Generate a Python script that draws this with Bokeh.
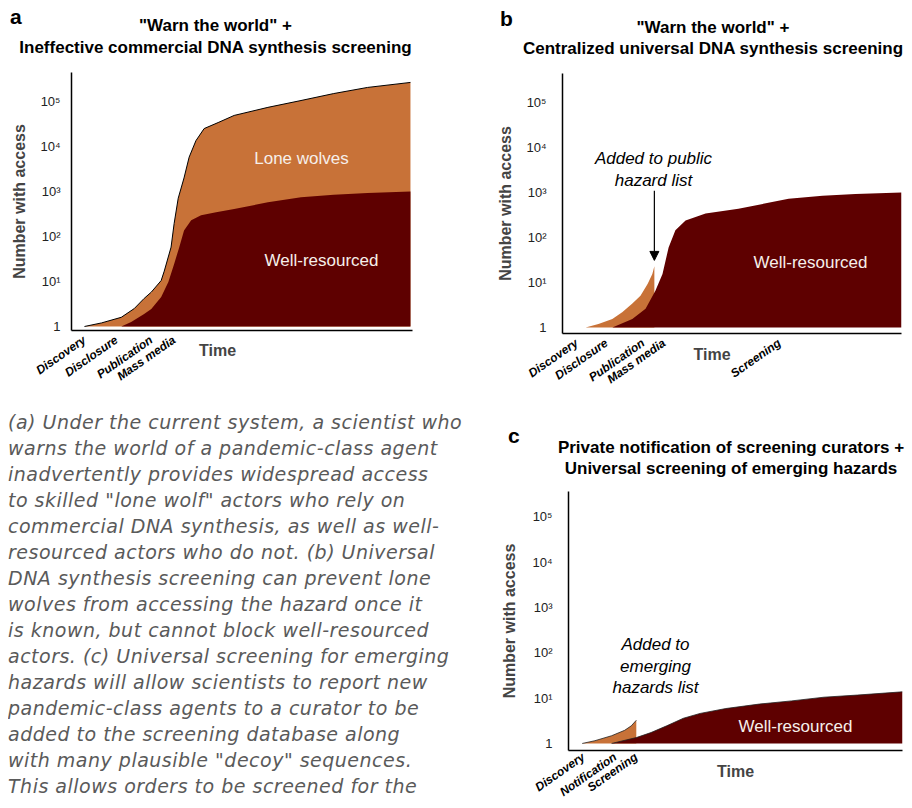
from bokeh.plotting import figure
from bokeh.models import FixedTicker, Label, Arrow, NormalHead, Range1d, Div
from bokeh.layouts import row, column
from bokeh.embed import file_html
from bokeh.resources import INLINE

ORANGE = "#C87238"
DARK = "#5E0000"
FONT = "Liberation Sans"

# ---------------- data ----------------
y_ticks = [1, 10, 100, 1000, 10000, 100000]
y_tick_labels = ["1", "10\u00b9", "10\u00b2", "10\u00b3", "10\u2074", "10\u2075"]

# panel a
a_letter = "a"
a_title = ["\"Warn the world\" +", "Ineffective commercial DNA synthesis screening"]
a_events = ["Discovery", "Disclosure", "Publication", "Mass media"]
a_event_t = [3.8, 13.2, 23.4, 30.1]
a_lone_t = [3.8, 8.8, 14.6, 18.4, 21.3, 23.4, 26.3, 27.2, 29.2, 30.1, 31.3, 33.0, 34.5,
            36.5, 38.9, 43.0, 47.7, 57.6, 67.3, 76.9, 86.8, 99.4]
a_lone_n = [1, 1.2, 1.6, 2.5, 4.2, 5.8, 10.5, 17, 58, 195, 710, 2000, 5800, 13500, 25000,
            34000, 49000, 74000, 105000, 150000, 205000, 265000]
a_wr_t = [14.6, 17.5, 21.3, 23.4, 26.3, 28.4, 30.1, 31.6, 33.0, 35.1, 38.0, 42.4, 47.7,
          57.6, 67.3, 76.9, 86.8, 99.4]
a_wr_n = [1, 1.26, 1.9, 2.45, 4.5, 9.8, 24.5, 58, 135, 230, 295, 345, 410, 575, 740, 850,
          930, 1000]

# panel b
b_letter = "b"
b_title = ["\"Warn the world\" +", "Centralized universal DNA synthesis screening"]
b_events = ["Discovery", "Disclosure", "Publication", "Mass media", "Screening"]
b_event_t = [4.2, 13.0, 23.8, 30.0, 64.0]
b_lone_t = [6.8, 10.6, 14.7, 17.7, 20.6, 23.0, 25.1, 26.5, 27.1]
b_lone_n = [1, 1.2, 1.55, 2.2, 3.4, 5.1, 9.3, 15.5, 23]
b_wr_t = [14.7, 20.6, 24.5, 27.4, 29.5, 31.3, 33.3, 36.3, 42.2, 51.9, 66.7, 76.7, 86.4, 100]
b_wr_n = [1, 1.55, 2.6, 6.6, 15.5, 60, 145, 240, 340, 435, 725, 850, 930, 1000]
b_list_t = 27.1          # time the hazard is added to the public list
b_arrow_n = [1100, 31]   # arrow from / to (number with access)

# panel c
c_letter = "c"
c_title = ["Private notification of screening curators +",
           "Universal screening of emerging hazards"]
c_events = ["Discovery", "Notification", "Screening"]
c_event_t = [4.5, 14.0, 20.3]
c_lone_t = [4.1, 7.9, 12.9, 16.8, 18.8, 20.3]
c_lone_n = [1, 1.15, 1.48, 1.95, 2.45, 3.25]
c_wr_t = [12.9, 20.3, 24.7, 29.4, 34.4, 39.4, 47.1, 57.1, 66.8, 76.5, 86.5, 100]
c_wr_n = [1, 1.35, 1.74, 2.45, 3.6, 4.6, 5.9, 7.4, 8.7, 10.5, 11.7, 13.8]

caption_lines = [
    "(a) Under the current system, a scientist who",
    "warns the world of a pandemic-class agent",
    "inadvertently provides widespread access",
    "to skilled \"lone wolf\" actors who rely on",
    "commercial DNA synthesis, as well as well-",
    "resourced actors who do not. (b) Universal",
    "DNA synthesis screening can prevent lone",
    "wolves from accessing the hazard once it",
    "is known, but cannot block well-resourced",
    "actors. (c) Universal screening for emerging",
    "hazards will allow scientists to report new",
    "pandemic-class agents to a curator to be",
    "added to the screening database along",
    "with many plausible \"decoy\" sequences.",
    "This allows orders to be screened for the",
]

NBSP = "\u00a0"


def lab(p, x, y, text, size, style="normal", color="black", align="center"):
    p.add_layout(Label(x=x, y=y, x_units="screen", y_units="screen", text=text,
                       text_font=FONT, text_font_size=size, text_font_style=style,
                       text_color=color, text_align=align, text_baseline="alphabetic"))


def header(width, height, letter, lx, ltop, lines, cx, tops, size):
    parts = ['<div style="position:relative;width:%dpx;height:%dpx;margin:0;padding:0;'
             'font-family:\'Liberation Sans\';color:black;">' % (width, height)]
    parts.append('<div style="position:absolute;left:%gpx;top:%gpx;font-weight:bold;'
                 'font-size:21px;line-height:16px;">%s</div>' % (lx, ltop, letter))
    for line, top in zip(lines, tops):
        parts.append('<div style="position:absolute;left:%gpx;top:%gpx;'
                     'transform:translateX(-50%%);white-space:nowrap;font-weight:bold;'
                     'font-size:%s;line-height:20px;">%s</div>' % (cx, top, size, line))
    parts.append('</div>')
    return Div(text="".join(parts), width=width, height=height, margin=0)


def panel(width, height, bl, br, bt, bb, ylo, yhi, events, event_t, tick_standoff,
          label_standoff, time_pad, time_standoff, x_standoff):
    p = figure(width=width, height=height, x_range=Range1d(0, 100),
               y_range=Range1d(10 ** ylo, 10 ** yhi), y_axis_type="log",
               output_backend="svg", toolbar_location=None, title=None,
               min_border_left=bl, min_border_right=br, min_border_top=bt,
               min_border_bottom=bb, margin=0)
    p.outline_line_color = None
    p.xgrid.visible = False
    p.ygrid.visible = False
    for ax in (p.xaxis[0], p.yaxis[0]):
        ax.major_tick_line_color = None
        ax.minor_tick_line_color = None
        ax.major_tick_out = 0
        ax.major_tick_in = 0
        ax.minor_tick_out = 0
        ax.minor_tick_in = 0
        ax.axis_line_width = 1.5
        ax.axis_line_color = "black"
    xa = p.xaxis[0]
    xa.ticker = FixedTicker(ticks=event_t)
    xa.major_label_overrides = {t: e for t, e in zip(event_t, events)}
    xa.major_label_orientation = 0.61
    xa.major_label_text_font = FONT
    xa.major_label_text_font_style = "bold italic"
    xa.major_label_text_font_size = "12px"
    xa.major_label_text_color = "black"
    xa.major_label_standoff = x_standoff
    xa.axis_label = "Time" + NBSP * time_pad
    xa.axis_label_text_font = FONT
    xa.axis_label_text_font_style = "bold"
    xa.axis_label_text_font_size = "16px"
    xa.axis_label_standoff = time_standoff
    ya = p.yaxis[0]
    ya.ticker = FixedTicker(ticks=y_ticks)
    ya.major_label_overrides = {t: s for t, s in zip(y_ticks, y_tick_labels)}
    ya.major_label_text_font = FONT
    ya.major_label_text_font_size = "13px"
    ya.major_label_text_color = "#222222"
    ya.major_label_standoff = tick_standoff
    ya.axis_label = "Number with access"
    ya.axis_label_text_font = FONT
    ya.axis_label_text_font_style = "bold"
    ya.axis_label_text_font_size = "16px"
    ya.axis_label_standoff = label_standoff
    return p


# ---------------- panel a ----------------
ha = header(450, 60, a_letter, 2, 1, a_title, 207.5, [7.5, 30], "17px")
pa = panel(450, 340, 62, 46, 4, 78, -0.089, 5.644, a_events, a_event_t, 11, 9, 11, -50, 8)
pa.varea(x=a_lone_t, y1=1, y2=a_lone_n, fill_color=ORANGE)
pa.line(x=a_lone_t, y=a_lone_n, line_color="black", line_width=1)
pa.varea(x=a_wr_t, y1=1, y2=a_wr_n, fill_color=DARK)
lab(pa, 230, 172, "Lone wolves", "17px", "normal", "#f6efea")
lab(pa, 250, 70, "Well-resourced", "17px", "normal", "#f6efea")

# ---------------- panel b ----------------
hb = header(446, 60, b_letter, 42, 2.7, b_title, 255, [9.6, 31.1], "17px")
pb = panel(446, 340, 104, 3, 5, 75, -0.133, 5.644, b_events, b_event_t, 16, 9, 9, -49, 8)
pb.varea(x=b_lone_t, y1=1, y2=b_lone_n, fill_color=ORANGE)
pb.varea(x=b_wr_t, y1=1, y2=b_wr_n, fill_color=DARK)
pb.add_layout(Arrow(end=NormalHead(size=9, fill_color="black", line_color="black"),
                    x_start=b_list_t, y_start=b_arrow_n[0], x_end=b_list_t,
                    y_end=b_arrow_n[1], line_color="black", line_width=1.2))
lab(pb, 91, 175, "Added to public", "17px", "italic")
lab(pb, 91, 153, "hazard list", "17px", "italic")
lab(pb, 248, 71, "Well-resourced", "17px", "normal", "#f6efea")

# ---------------- panel c ----------------
hc = header(414, 80, c_letter, 18, 19.7, c_title, 241, [30, 51], "17px")
pc = panel(414, 312, 78, 2, 3, 50, -0.155, 5.56, c_events, c_event_t, 16, 11, 0, -45, 5)
pc.varea(x=c_lone_t, y1=1, y2=c_lone_n, fill_color=ORANGE)
pc.line(x=c_lone_t, y=c_lone_n, line_color="#222222", line_width=0.8)
pc.varea(x=c_wr_t, y1=1, y2=c_wr_n, fill_color=DARK)
pc.line(x=c_wr_t, y=c_wr_n, line_color="#222222", line_width=0.8)
lab(pc, 87, 106, "Added to", "17px", "italic")
lab(pc, 87, 84, "emerging", "17px", "italic")
lab(pc, 87, 63, "hazards list", "17px", "italic")
lab(pc, 227, 24, "Well-resourced", "17px", "normal", "#f6efea")

# ---------------- caption ----------------
cap = Div(text='<div style="margin-top:1px">' + "<br>".join(caption_lines) + "</div>",
          width=482, height=392, margin=0,
          styles={"font-family": "'DejaVu Sans'", "font-style": "italic",
                  "font-size": "19px", "letter-spacing": "0.5px",
                  "line-height": "26px", "color": "#5a5a5a",
                  "white-space": "nowrap", "overflow": "hidden"})

layout = column(row(column(ha, pa), column(hb, pb)), row(cap, column(hc, pc)),
                margin=(8, 0, 0, 8))
open("out.html", "w").write(file_html(layout, INLINE))
